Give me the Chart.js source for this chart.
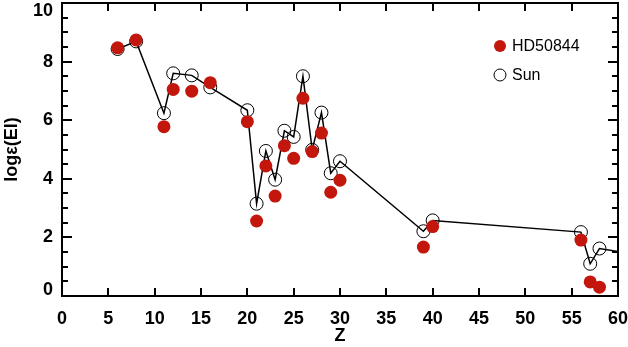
<!DOCTYPE html>
<html>
<head>
<meta charset="utf-8">
<script src="https://cdn.jsdelivr.net/npm/chart.js@4.4.0/dist/chart.umd.min.js"></script>
<style>
  html, body { margin: 0; padding: 0; background: #fff; }
  #chart { display: block; }
</style>
</head>
<body>
<canvas id="chart" width="628" height="347"></canvas>
<script>
// atomic numbers
const starZ = [6, 8, 11, 12, 14, 16, 20, 21, 22, 23, 24, 25, 26, 27, 28, 29, 30, 39, 40, 56, 57, 58];
// HD50844 abundances
const starAbund = [8.47, 8.74, 5.78, 7.05, 6.99, 7.28, 5.95, 2.56, 4.44, 3.41, 5.13, 4.70, 6.75, 4.93, 5.56, 3.54, 3.95, 1.67, 2.37, 1.91, 0.48, 0.30];
// solar abundances (last point only continues the line to the edge)
const sunZ = [6, 8, 11, 12, 14, 16, 20, 21, 22, 23, 24, 25, 26, 27, 28, 29, 30, 39, 40, 56, 57, 58, 60];
const sunAbund = [8.43, 8.69, 6.24, 7.60, 7.53, 7.12, 6.34, 3.15, 4.95, 3.97, 5.64, 5.43, 7.50, 4.99, 6.26, 4.19, 4.60, 2.21, 2.58, 2.18, 1.10, 1.62, 1.52];
const xTicks = [0, 5, 10, 15, 20, 25, 30, 35, 40, 45, 50, 55, 60];
const yTicks = [0, 2, 4, 6, 8, 10];
const yMinorStep = 0.5;

const RED = "#c3160c";
const FONT = "'Liberation Sans', Arial, sans-serif";

// frame, inward ticks, y labels and legend
const framePlugin = {
    id: "frame",
    afterDraw(chart) {
        const ctx = chart.ctx;
        const a = chart.chartArea;
        const xs = chart.scales.x, ys = chart.scales.y;
        ctx.save();
        ctx.strokeStyle = "#000000";
        ctx.lineWidth = 2;

        const segs = [];
        xTicks.forEach(v => {
            const px = Math.round(xs.getPixelForValue(v));
            segs.push([px, a.bottom, px, a.bottom - 8]);
            segs.push([px, a.top, px, a.top + 8]);
        });
        for (let v = 0; v <= 10; v += yMinorStep) {
            const py = Math.round(ys.getPixelForValue(v));
            const len = (v % 2 === 0) ? 10 : 6;
            segs.push([a.left, py, a.left + len, py]);
            segs.push([a.right, py, a.right - len, py]);
        }
        ctx.beginPath();
        segs.forEach(s => { ctx.moveTo(s[0], s[1]); ctx.lineTo(s[2], s[3]); });
        ctx.stroke();
        ctx.strokeRect(a.left, a.top, a.right - a.left, a.bottom - a.top);

        // y tick labels, kept inside the canvas at the ends
        ctx.fillStyle = "#000";
        ctx.font = "bold 18px " + FONT;
        ctx.textAlign = "right";
        ctx.textBaseline = "middle";
        yTicks.forEach(v => {
            const py = Math.min(Math.max(ys.getPixelForValue(v), 11), 290);
            ctx.fillText(String(v), a.left - 9, py);
        });

        // legend
        ctx.font = "16px " + FONT;
        ctx.textAlign = "left";
        ctx.fillStyle = RED;
        ctx.beginPath();
        ctx.arc(500, 46, 6, 0, Math.PI * 2);
        ctx.fill();
        ctx.fillStyle = "#000";
        ctx.fillText("HD50844", 512, 47);

        ctx.lineWidth = 1;
        ctx.beginPath();
        ctx.arc(500, 75, 6, 0, Math.PI * 2);
        ctx.stroke();
        ctx.fillText("Sun", 512, 76);
        ctx.restore();
    }
};

new Chart(document.getElementById("chart"), {
    type: "scatter",
    data: {
        datasets: [
            {
                label: "Sun",
                data: sunZ.map((z, i) => ({ x: z, y: sunAbund[i] })),
                showLine: true,
                borderColor: "#000",
                borderWidth: 1.5,
                backgroundColor: "rgba(0,0,0,0)",
                pointBorderColor: "#000",
                pointBorderWidth: 1,
                pointRadius: c => (c.raw && c.raw.x >= 60 ? 0 : 6.5),
                order: 2
            },
            {
                label: "HD50844",
                data: starZ.map((z, i) => ({ x: z, y: starAbund[i] })),
                showLine: false,
                backgroundColor: RED,
                borderColor: RED,
                pointRadius: 6.5,
                pointBorderWidth: 0,
                order: 1
            }
        ]
    },
    options: {
        responsive: false,
        devicePixelRatio: 1,
        animation: false,
        layout: { autoPadding: false, padding: { top: 3, right: 10, left: 0, bottom: 0 } },
        plugins: {
            legend: { display: false },
            tooltip: { enabled: false }
        },
        scales: {
            x: {
                type: "linear",
                min: 0,
                max: 60,
                grid: { display: false, drawTicks: false },
                border: { display: false },
                afterFit: s => {
                    s.height = 51;
                    s.paddingLeft = 0;
                    s.paddingRight = 0;
                },
                afterBuildTicks: s => { s.ticks = xTicks.map(v => ({ value: v })); },
                ticks: {
                    color: "#000",
                    padding: 12,
                    font: { family: FONT, size: 18, weight: "bold" }
                },
                title: {
                    display: true,
                    text: "Z",
                    color: "#000",
                    padding: 0,
                    font: { family: FONT, size: 18, weight: "bold" }
                }
            },
            y: {
                type: "linear",
                min: 0,
                max: 10,
                grid: { display: false, drawTicks: false },
                border: { display: false },
                afterFit: s => {
                    s.width = 62;
                    s.paddingTop = 0;
                    s.paddingBottom = 0;
                },
                afterBuildTicks: s => { s.ticks = yTicks.map(v => ({ value: v })); },
                ticks: {
                    display: false
                },
                title: {
                    display: true,
                    text: "logε(El)",
                    color: "#000",
                    padding: { top: 1 },
                    font: { family: FONT, size: 18, weight: "bold" }
                }
            }
        }
    },
    plugins: [framePlugin]
});
</script>
</body>
</html>
